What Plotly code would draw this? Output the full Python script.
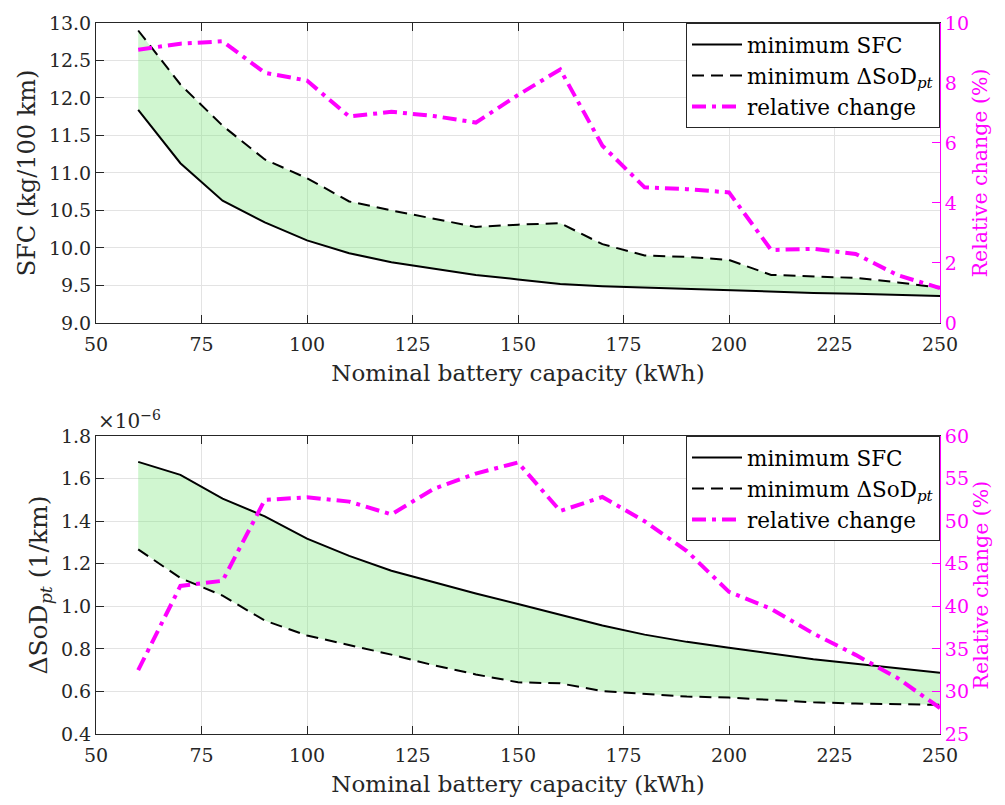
import plotly.graph_objects as go

# ---------------- data ----------------
capacity = [60, 70, 80, 90, 100, 110, 120, 130, 140, 150,
            160, 170, 180, 190, 200, 210, 220, 230, 240, 250]

# top panel: SFC (kg/100 km)
sfc_at_min_sfc = [11.84, 11.13, 10.63, 10.34, 10.10, 9.93, 9.81, 9.72, 9.64, 9.58,
                  9.52, 9.49, 9.47, 9.45, 9.43, 9.41, 9.40, 9.39, 9.37, 9.36]
sfc_at_min_sod = [12.90, 12.18, 11.63, 11.18, 10.93, 10.62, 10.50, 10.39, 10.28, 10.31,
                  10.33, 10.05, 9.90, 9.88, 9.84, 9.64, 9.62, 9.60, 9.54, 9.47]
rel_change_sfc = [9.11, 9.31, 9.39, 8.34, 8.08, 6.88, 7.04, 6.90, 6.68, 7.60,
                  8.45, 5.91, 4.52, 4.46, 4.35, 2.43, 2.47, 2.30, 1.59, 1.16]

# bottom panel: dSoD_pt (x1e-6 1/km)
sod_at_min_sfc = [1.679, 1.618, 1.506, 1.423, 1.318, 1.237, 1.167, 1.113, 1.060, 1.011,
                  0.960, 0.910, 0.867, 0.833, 0.805, 0.777, 0.751, 0.730, 0.708, 0.688]
sod_at_min_sod = [1.268, 1.133, 1.050, 0.933, 0.863, 0.817, 0.773, 0.723, 0.680, 0.643,
                  0.638, 0.602, 0.590, 0.576, 0.571, 0.560, 0.549, 0.543, 0.540, 0.537]
rel_change_sod = [32.5, 42.4, 43.0, 52.5, 52.8, 52.3, 50.8, 53.8, 55.6, 56.9,
                  51.2, 52.85, 50.0, 46.5, 41.7, 39.7, 36.8, 34.3, 31.55, 28.05]

x_ticks = [50, 75, 100, 125, 150, 175, 200, 225, 250]
sfc_ticks = [9.0, 9.5, 10.0, 10.5, 11.0, 11.5, 12.0, 12.5, 13.0]
sod_ticks = [0.4, 0.6, 0.8, 1.0, 1.2, 1.4, 1.6, 1.8]
rel_top_ticks = [0, 2, 4, 6, 8, 10]
rel_bot_ticks = [25, 30, 35, 40, 45, 50, 55, 60]

# ---------------- style ----------------
FONT = "DejaVu Serif"
TXT = "#262626"
MAG = "#FF00FF"
GRID = "#e3e3e3"
FILL = "rgba(120,230,120,0.35)"
TICKF = 19
XTITLEF = 23
LEGF = 21.5

fig = go.Figure()

def add_panel(xa, ya, ya2, y_solid, y_dash, rel, legend_name):
    # fill between the two curves
    fig.add_trace(go.Scatter(
        x=capacity + capacity[::-1], y=y_solid + y_dash[::-1],
        fill="toself", fillcolor=FILL, line=dict(width=0),
        mode="lines", hoverinfo="skip", showlegend=False,
        xaxis=xa, yaxis=ya))
    fig.add_trace(go.Scatter(
        x=capacity, y=y_solid, mode="lines", name="minimum SFC",
        line=dict(color="black", width=2), legend=legend_name,
        xaxis=xa, yaxis=ya))
    fig.add_trace(go.Scatter(
        x=capacity, y=y_dash, mode="lines",
        name="minimum ΔSoD<sub><i>pt</i></sub>",
        line=dict(color="black", width=2, dash="12px,7px"), legend=legend_name,
        xaxis=xa, yaxis=ya))
    fig.add_trace(go.Scatter(
        x=capacity, y=rel, mode="lines", name="relative change",
        line=dict(color=MAG, width=4, dash="14px,6px,4px,6px"), legend=legend_name,
        xaxis=xa, yaxis=ya2))

add_panel("x", "y", "y2", sfc_at_min_sfc, sfc_at_min_sod, rel_change_sfc, "legend")
add_panel("x2", "y3", "y4", sod_at_min_sfc, sod_at_min_sod, rel_change_sod, "legend2")

top_dom = [0.5782, 1.0]
bot_dom = [0.0, 0.419]

xcommon = dict(range=[50, 250], tickvals=x_ticks, ticks="inside", ticklen=8,
               tickcolor=TXT, showline=True, linecolor=TXT, linewidth=1,
               mirror="ticks", showgrid=True, gridcolor=GRID, zeroline=False,
               ticklabelstandoff=4,
               tickfont=dict(family=FONT, size=TICKF, color=TXT),
               title=dict(text="Nominal battery capacity (kWh)",
                          font=dict(family=FONT, size=XTITLEF, color=TXT), standoff=11))
ycommon = dict(ticks="inside", ticklen=8, tickcolor=TXT, showline=True,
               linecolor=TXT, linewidth=1, mirror=False, showgrid=True,
               gridcolor=GRID, zeroline=False,
               tickfont=dict(family=FONT, size=TICKF, color=TXT))
y2common = dict(side="right", ticks="inside", ticklen=8, tickcolor=MAG,
                showline=True, linecolor=MAG, linewidth=1, showgrid=False,
                zeroline=False, tickfont=dict(family=FONT, size=TICKF, color=MAG))

fig.update_layout(
    width=1005, height=805,
    margin=dict(l=96, r=65, t=20, b=69),
    paper_bgcolor="white", plot_bgcolor="white",
    xaxis=dict(xcommon, domain=[0, 1], anchor="y"),
    xaxis2=dict(xcommon, domain=[0, 1], anchor="y3"),
    yaxis=dict(ycommon, domain=top_dom, range=[9, 13], tickvals=sfc_ticks,
               tickformat=".1f", anchor="x",
               title=dict(text="SFC (kg/100 km)",
                          font=dict(family=FONT, size=24, color=TXT), standoff=6)),
    yaxis2=dict(y2common, domain=top_dom, range=[0, 10], tickvals=rel_top_ticks,
                overlaying="y", anchor="x",
                title=dict(text="Relative change (%)",
                           font=dict(family=FONT, size=20.5, color=MAG), standoff=4)),
    yaxis3=dict(ycommon, domain=bot_dom, range=[0.4, 1.8], tickvals=sod_ticks,
                tickformat=".1f", anchor="x2",
                title=dict(text="ΔSoD<sub><i>pt</i></sub> (1/km)",
                           font=dict(family=FONT, size=25, color=TXT), standoff=6)),
    yaxis4=dict(y2common, domain=bot_dom, range=[25, 60], tickvals=rel_bot_ticks,
                overlaying="y3", anchor="x2",
                title=dict(text="Relative change (%)",
                           font=dict(family=FONT, size=20.5, color=MAG), standoff=4)),
    legend=dict(x=1, xanchor="right", y=1, yanchor="top", bgcolor="white",
                bordercolor=TXT, borderwidth=1,
                font=dict(family=FONT, size=LEGF, color="black"),
                tracegroupgap=0, itemwidth=50),
    legend2=dict(x=1, xanchor="right", y=bot_dom[1], yanchor="top", bgcolor="white",
                 bordercolor=TXT, borderwidth=1,
                 font=dict(family=FONT, size=LEGF, color="black"),
                 tracegroupgap=0, itemwidth=50),
    annotations=[dict(text="×10<sup>−6</sup>", xref="paper", yref="paper",
                      x=0, y=bot_dom[1], xanchor="left", yanchor="bottom",
                      yshift=1, showarrow=False,
                      font=dict(family=FONT, size=20, color=TXT))],
)

fig.write_html("out.html")
